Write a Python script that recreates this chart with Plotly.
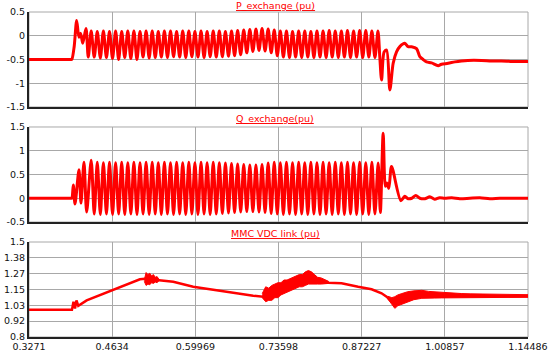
import plotly.graph_objects as go

# ---------------- data ----------------
x_tickvals = [0.3271, 0.4634, 0.59969, 0.73598, 0.87227, 1.00857, 1.14486]
x_ticktext = ["0.3271", "0.4634", "0.59969", "0.73598", "0.87227", "1.00857", "1.14486"]

p_ticks = [-1.5, -1.0, -0.5, 0.0, 0.5]
p_ticktext = ["-1.5", "-1", "-0.5", "0", "0.5"]
q_ticks = [-0.5, 0.0, 0.5, 1.0, 1.5]
q_ticktext = ["-0.5", "0", "0.5", "1", "1.5"]
v_ticks = [0.8, 0.91667, 1.03333, 1.15, 1.26667, 1.38333, 1.5]
v_ticktext = ["0.8", "0.92", "1.03", "1.15", "1.27", "1.38", "1.5"]

# times of oscillation peaks / troughs (shared by P and Q)
t_peaks = [0.429, 0.439, 0.449, 0.459, 0.469, 0.479, 0.489, 0.499, 0.509, 0.519,
           0.529, 0.539, 0.549, 0.559, 0.569, 0.579, 0.589, 0.599, 0.609, 0.619,
           0.629, 0.639, 0.649, 0.659, 0.669, 0.679, 0.689, 0.699, 0.709, 0.719,
           0.729, 0.739, 0.749, 0.759, 0.769, 0.779, 0.789, 0.799, 0.809, 0.819,
           0.829, 0.839, 0.849, 0.859, 0.869, 0.879, 0.889]
t_troughs = [0.434, 0.444, 0.454, 0.464, 0.474, 0.484, 0.494, 0.504, 0.514, 0.524,
             0.534, 0.544, 0.554, 0.564, 0.574, 0.584, 0.594, 0.604, 0.614, 0.624,
             0.634, 0.644, 0.654, 0.664, 0.674, 0.684, 0.694, 0.704, 0.714, 0.724,
             0.734, 0.744, 0.754, 0.764, 0.774, 0.784, 0.794, 0.804, 0.814, 0.824,
             0.834, 0.844, 0.854, 0.864, 0.874, 0.884, 0.894]

# P_exchange
p_head_t = [0.3271, 0.3600, 0.3900, 0.3960, 0.3975, 0.4012, 0.4052, 0.4090, 0.4118,
            0.4151, 0.4205, 0.4242]
p_head_v = [-0.50, -0.50, -0.50, -0.50, -0.49, -0.22, 0.32, -0.03, 0.05,
            -0.16, 0.15, -0.45]
p_peaks = [0.10, 0.09, 0.10, 0.09, 0.10, 0.09, 0.10, 0.10, 0.09, 0.10,
           0.10, 0.09, 0.10, 0.10, 0.09, 0.10, 0.10, 0.09, 0.10, 0.09,
           0.10, 0.10, 0.09, 0.10, 0.11, 0.12, 0.13, 0.14, 0.15, 0.14,
           0.12, 0.10, 0.10, 0.09, 0.10, 0.10, 0.09, 0.10, 0.10, 0.11,
           0.10, 0.10, 0.11, 0.10, 0.11, 0.11, 0.10]
p_troughs = [-0.45, -0.47, -0.46, -0.48, -0.50, -0.46, -0.48, -0.50, -0.45, -0.47,
             -0.46, -0.45, -0.46, -0.44, -0.45, -0.46, -0.44, -0.45, -0.46, -0.44,
             -0.45, -0.44, -0.43, -0.42, -0.40, -0.36, -0.33, -0.31, -0.32, -0.36,
             -0.42, -0.45, -0.46, -0.45, -0.46, -0.45, -0.46, -0.45, -0.46, -0.45,
             -0.46, -0.45, -0.46, -0.45, -0.46, -0.45, -0.46]
p_tail_t = [0.8990, 0.9020, 0.9049, 0.9091, 0.9131, 0.9185, 0.9239, 0.9294, 0.9348,
            0.9430, 0.9484, 0.9540, 0.9622, 0.9676, 0.9730, 0.9786, 0.9868, 0.9976,
            1.0031, 1.0140, 1.0249, 1.0359, 1.0462, 1.0687, 1.0850, 1.1014, 1.1200, 1.14486]
p_tail_v = [0.10, -0.45, -0.93, -0.34, -0.30, -1.14, -0.58, -0.34, -0.23,
            -0.16, -0.23, -0.23, -0.27, -0.44, -0.50, -0.55, -0.57, -0.63,
            -0.60, -0.58, -0.55, -0.53, -0.52, -0.52, -0.53, -0.53, -0.54, -0.54]

# Q_exchange
q_head_t = [0.3271, 0.3600, 0.3900, 0.3960, 0.3975, 0.3997, 0.4025, 0.4090, 0.4123,
            0.4172, 0.4216]
q_head_v = [0.0, 0.0, 0.0, 0.0, 0.01, 0.28, -0.12, 0.60, -0.10, 0.76, -0.29]
q_peaks = [0.80, 0.76, 0.75, 0.76, 0.75, 0.76, 0.75, 0.76, 0.75, 0.76,
           0.76, 0.75, 0.76, 0.75, 0.76, 0.75, 0.76, 0.75, 0.76, 0.75,
           0.76, 0.75, 0.74, 0.73, 0.72, 0.71, 0.70, 0.70, 0.71, 0.74,
           0.76, 0.75, 0.76, 0.75, 0.76, 0.75, 0.76, 0.75, 0.76, 0.75,
           0.76, 0.75, 0.76, 0.75, 0.76, 0.75, 0.76]
q_troughs = [-0.33, -0.34, -0.33, -0.34, -0.33, -0.34, -0.33, -0.34, -0.33, -0.34,
             -0.33, -0.34, -0.33, -0.34, -0.33, -0.34, -0.33, -0.34, -0.33, -0.34,
             -0.33, -0.32, -0.31, -0.30, -0.29, -0.28, -0.28, -0.29, -0.30, -0.32,
             -0.33, -0.34, -0.33, -0.34, -0.33, -0.34, -0.33, -0.34, -0.33, -0.34,
             -0.33, -0.34, -0.33, -0.34, -0.33, -0.34, -0.33]
q_tail_t = [0.8993, 0.9029, 0.9075, 0.9111, 0.9135, 0.9168, 0.9212, 0.9365, 0.9430,
            0.9484, 0.9545, 0.9610, 0.9676, 0.9758, 0.9840, 0.9920, 1.0000, 1.0085,
            1.0200, 1.0331, 1.0495, 1.0659, 1.0823, 1.0986, 1.1150, 1.14486]
q_tail_v = [0.74, -0.30, 1.37, 0.25, 0.32, 0.21, 0.67, -0.05, 0.04,
            -0.01, 0.00, 0.06, 0.00, -0.01, 0.03, -0.02, 0.01, 0.00,
            0.01, -0.01, 0.00, 0.01, -0.01, 0.00, 0.00, 0.00]

# MMC VDC link
vdc_t = [0.3271, 0.3975, 0.4000, 0.4025, 0.4049, 0.4079, 0.4216, 0.4434, 0.4652,
         0.4871, 0.5089, 0.5171, 0.5417, 0.5635, 0.5962, 0.6290, 0.6618, 0.6945,
         0.7109, 0.7300, 0.7627, 0.7841, 0.7956, 0.8174, 0.8393, 0.8665, 0.8885,
         0.9049, 0.9131, 0.9212, 0.9266, 0.9484, 0.9676, 0.9900, 1.0400, 1.0900, 1.14486]
vdc_v = [1.00, 1.00, 1.06, 1.01, 1.07, 1.03, 1.07, 1.11, 1.146,
         1.188, 1.225, 1.23, 1.22, 1.207, 1.17, 1.146, 1.126, 1.104,
         1.097, 1.146, 1.195, 1.24, 1.21, 1.20, 1.196, 1.17, 1.152,
         1.122, 1.097, 1.06, 1.05, 1.097, 1.115, 1.11, 1.10, 1.10, 1.10]

# noisy bands (upper / lower envelopes)
band1_t = [0.5160, 0.5190, 0.5220, 0.5250, 0.5280, 0.5310, 0.5340, 0.5370, 0.5400]
band1_hi = [1.22, 1.275, 1.26, 1.27, 1.25, 1.26, 1.24, 1.245, 1.225]
band1_lo = [1.21, 1.18, 1.19, 1.185, 1.20, 1.195, 1.205, 1.20, 1.215]

band2_t = [0.7093, 0.7150, 0.7200, 0.7250, 0.7300, 0.7350, 0.7400, 0.7450, 0.7500,
           0.7550, 0.7600, 0.7650, 0.7700, 0.7750, 0.7800, 0.7850, 0.7900, 0.7950,
           0.8000, 0.8060, 0.8120, 0.8180]
band2_hi = [1.12, 1.17, 1.16, 1.18, 1.19, 1.20, 1.20, 1.22, 1.22,
            1.23, 1.24, 1.25, 1.26, 1.26, 1.28, 1.29, 1.28, 1.26,
            1.24, 1.235, 1.225, 1.21]
band2_lo = [1.09, 1.06, 1.07, 1.07, 1.09, 1.09, 1.11, 1.12, 1.13,
            1.14, 1.15, 1.16, 1.17, 1.17, 1.18, 1.19, 1.19, 1.19,
            1.19, 1.19, 1.19, 1.195]

band3_t = [0.9152, 0.9217, 0.9266, 0.9315, 0.9381, 0.9479, 0.9578, 0.9709, 0.9820,
           0.9922, 1.0030, 1.0135, 1.0250, 1.0364, 1.0500, 1.0626, 1.0740, 1.0856,
           1.1000, 1.1150, 1.1300, 1.14486]
band3_hi = [1.10, 1.09, 1.097, 1.11, 1.12, 1.134, 1.14, 1.144, 1.136,
            1.132, 1.128, 1.126, 1.122, 1.12, 1.118, 1.117, 1.116, 1.115,
            1.114, 1.113, 1.113, 1.112]
band3_lo = [1.08, 1.04, 1.011, 1.03, 1.045, 1.06, 1.075, 1.085, 1.085,
            1.087, 1.088, 1.088, 1.089, 1.089, 1.09, 1.091, 1.092, 1.092,
            1.093, 1.093, 1.093, 1.093]

# ---------------- build series ----------------
def interleave(tp, vp, tt, vt):
    ts, vs = [], []
    for a, b, c, d in zip(tp, vp, tt, vt):
        ts += [a, c]
        vs += [b, d]
    return ts, vs

po_t, po_v = interleave(t_peaks, p_peaks, t_troughs, p_troughs)
qo_t, qo_v = interleave(t_peaks, q_peaks, t_troughs, q_troughs)
p_t = p_head_t + po_t + p_tail_t
p_v = p_head_v + po_v + p_tail_v
q_t = q_head_t + qo_t + q_tail_t
q_v = q_head_v + qo_v + q_tail_v

RED = "#ff0000"
FONT = "DejaVu Sans"

fig = go.Figure()
fig.add_trace(go.Scatter(x=p_t, y=p_v, mode="lines", xaxis="x", yaxis="y",
                         line=dict(color=RED, width=3, shape="spline", smoothing=0.8)))
fig.add_trace(go.Scatter(x=q_t, y=q_v, mode="lines", xaxis="x2", yaxis="y2",
                         line=dict(color=RED, width=3, shape="spline", smoothing=0.8)))
fig.add_trace(go.Scatter(x=vdc_t, y=vdc_v, mode="lines", xaxis="x3", yaxis="y3",
                         line=dict(color=RED, width=2.5)))
for bt, bh, bl in [(band1_t, band1_hi, band1_lo), (band2_t, band2_hi, band2_lo),
                   (band3_t, band3_hi, band3_lo)]:
    fig.add_trace(go.Scatter(x=bt + bt[::-1], y=bh + bl[::-1], mode="lines",
                             xaxis="x3", yaxis="y3", fill="toself", fillcolor=RED,
                             line=dict(color=RED, width=1)))

# geometry (paper fractions of the plot area)
doms = {"": [0.7077, 1.0], "2": [0.3538, 0.6462], "3": [0.0, 0.2923]}
GRID = "#a8a8a8"
tickfont = dict(family=FONT, size=9.5, color="#111111")

layout = dict(
    width=550, height=357,
    margin=dict(l=29, r=22, t=12, b=20, autoexpand=False),
    paper_bgcolor="white", plot_bgcolor="white",
    showlegend=False,
    font=dict(family=FONT, size=10, color="#111111"),
)
yinfo = {"": (p_ticks, p_ticktext, [-1.5, 0.5]),
         "2": (q_ticks, q_ticktext, [-0.5, 1.5]),
         "3": (v_ticks, v_ticktext, [0.8, 1.5])}
for k in ["", "2", "3"]:
    layout["xaxis" + k] = dict(
        domain=[0, 1], anchor="y" + k, range=[0.3271, 1.14486],
        tickvals=x_tickvals, ticktext=x_ticktext, showticklabels=(k == "3"),
        showgrid=True, gridcolor=GRID, gridwidth=1, zeroline=False,
        showline=True, linecolor="#222222", linewidth=2, ticks="",
        tickfont=tickfont, fixedrange=True, automargin=False,
    )
    tv, tt, rg = yinfo[k]
    layout["yaxis" + k] = dict(
        domain=doms[k], anchor="x" + k, range=rg,
        tickvals=tv, ticktext=tt,
        showgrid=True, gridcolor=GRID, gridwidth=1, zeroline=False,
        showline=True, linecolor="#222222", linewidth=2, ticks="",
        tickfont=tickfont, fixedrange=True, automargin=False,
    )
fig.update_layout(**layout)

shapes = []
for k in ["", "2", "3"]:
    xr = "x" + k
    yr = "y" + k
    shapes.append(dict(type="rect", xref=xr + " domain", yref=yr + " domain",
                       x0=0, x1=1, y0=0, y1=1, line=dict(color=GRID, width=1),
                       layer="below"))
fig.update_layout(shapes=shapes)

# title centres, in paper fractions (plot area spans 325 px)
titles = [("P_exchange (pu)", 1.0200), ("Q_exchange(pu)", 0.6720), ("MMC VDC link (pu)", 0.3190)]
for txt, yy in titles:
    fig.add_annotation(text="<u>" + txt + "</u>", x=0.493, y=yy, xref="paper", yref="paper",
                       showarrow=False, xanchor="center", yanchor="middle", borderpad=0,
                       font=dict(family=FONT, size=9.5, color=RED))

fig.write_html("out.html", config={"responsive": False, "displayModeBar": False},
               post_script="document.body.style.margin='0';document.body.style.overflow='hidden';")
